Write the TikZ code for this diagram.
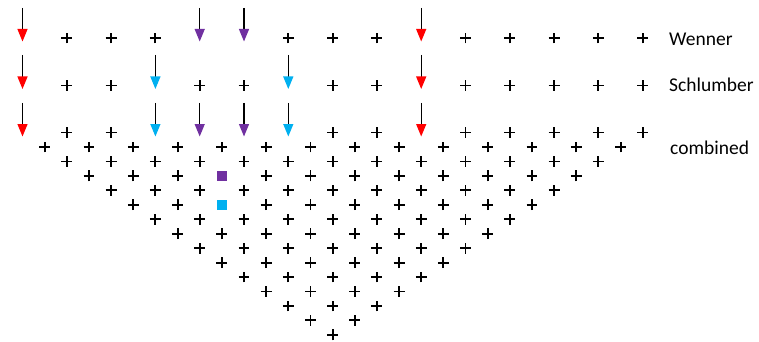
\documentclass[tikz,border=0pt]{standalone}
\usepackage{fontspec}
\setmainfont{Carlito}
\usetikzlibrary{arrows.meta,shapes.misc}
\definecolor{ered}{HTML}{FF0000}
\definecolor{epurple}{HTML}{7030A0}
\definecolor{ecyan}{HTML}{00B0F0}
\begin{document}
\begin{tikzpicture}[x=1pt,y=-1pt,
  plusmark/.style={draw=black, cross out, rotate=45, minimum size=5.8pt,
    inner sep=0pt, line width=1.9pt},
  downarrow/.style={line width=1.2pt, draw=black,
    -{Triangle[length=12.5pt,width=10pt,color=#1]}},
  sqmark/.style={minimum size=10pt, inner sep=0pt, fill=#1},
  lbl/.style={anchor=west, inner sep=0pt, font=\fontsize{19.5}{22}\selectfont}]
\useasboundingbox (0,0) rectangle (759,342);

% electrode spacing 44.3, first electrode at x = 22.5
% --- Wenner row ---
\foreach \i in {1,2,3,6,7,8,10,11,12,13,14}
  \node[plusmark] (w\i) at ({22.5+44.3*\i},38) {};
\foreach \i/\c in {0/ered,4/epurple,5/epurple,9/ered} {
  \coordinate (w\i) at ({22.5+44.3*\i},41.5);
  \coordinate (wt\i) at ({22.5+44.3*\i},8);
  \draw[downarrow=\c] (wt\i) -- (w\i);
}
% --- Schlumberger row ---
\foreach \i in {1,2,4,5,7,8,10,11,12,13,14}
  \node[plusmark] (s\i) at ({22.5+44.3*\i},85.5) {};
\foreach \i/\c in {0/ered,3/ecyan,6/ecyan,9/ered} {
  \coordinate (s\i) at ({22.5+44.3*\i},89);
  \coordinate (st\i) at ({22.5+44.3*\i},55);
  \draw[downarrow=\c] (st\i) -- (s\i);
}
% --- combined row ---
\foreach \i in {1,2,7,8,10,11,12,13,14}
  \node[plusmark] (c\i) at ({22.5+44.3*\i},132.5) {};
\foreach \i/\c in {0/ered,3/ecyan,4/epurple,5/epurple,6/ecyan,9/ered} {
  \coordinate (c\i) at ({22.5+44.3*\i},136.5);
  \coordinate (ct\i) at ({22.5+44.3*\i},103);
  \draw[downarrow=\c] (ct\i) -- (c\i);
}

% --- pseudosection data points ---
\foreach \n in {1,...,14} {
  \pgfmathtruncatemacro\last{14-\n}
  \foreach \k in {0,...,\last} {
    \pgfmathtruncatemacro\key{\n*100+\k}
    \ifnum\key=303 \else \ifnum\key=502 \else
      \node[plusmark] (p\n-\k) at ({22.5+22.15*\n+44.3*\k},{147+14.45*(\n-1)}) {};
    \fi\fi
  }
}
\node[sqmark=epurple] (sqw) at (221.85,175.9) {};
\node[sqmark=ecyan] (sqs) at (221.85,204.8) {};

% --- labels ---
\node[lbl] (lw) at (669,39) {Wenner};
\node[lbl] (ls) at (669,85) {Schlumber};
\node[lbl] (lc) at (670,148) {combined};
\end{tikzpicture}
\end{document}
